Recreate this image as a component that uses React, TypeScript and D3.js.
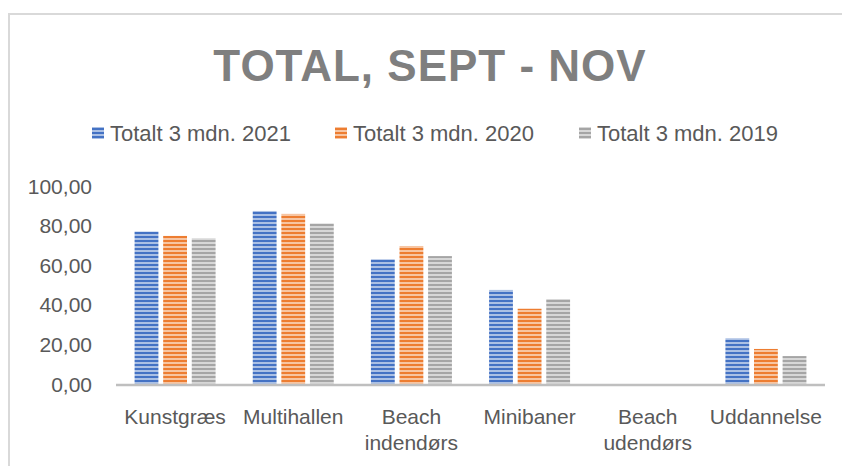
import React from "react";
import * as d3 from "d3";

const categories: string[][] = [
  ["Kunstgræs"],
  ["Multihallen"],
  ["Beach", "indendørs"],
  ["Minibaner"],
  ["Beach", "udendørs"],
  ["Uddannelse"],
];
const seriesNames = ["Totalt 3 mdn. 2021", "Totalt 3 mdn. 2020", "Totalt 3 mdn. 2019"];
const values2021 = [77.0, 87.4, 63.0, 47.5, 0, 23.1];
const values2020 = [74.8, 85.9, 69.7, 38.0, 0, 17.7];
const values2019 = [73.6, 81.1, 64.6, 42.9, 0, 14.1];
const yTicks = [0, 20, 40, 60, 80, 100];
const colors = ["#4472C4", "#ED7D31", "#A5A5A5"];

const W = 842;
const H = 466;
const FONT = "'Liberation Sans', Arial, sans-serif";

export default function App() {
  const series = [values2021, values2020, values2019];
  const catKeys = categories.map((c) => c.join(" "));
  const x = d3.scaleBand<string>().domain(catKeys).range([116, 825]).padding(0);
  const groupW = 81;
  const x1 = d3
    .scaleBand<number>()
    .domain([0, 1, 2])
    .range([0, groupW])
    .paddingInner(0.2 / 1.2)
    .paddingOuter(0);
  const y = d3.scaleLinear().domain([0, 100]).range([384, 186]);
  const fmt = (v: number) => d3.format(".2f")(v).replace(".", ",");
  const light = (c: string) => d3.interpolateRgb(c, "#ffffff")(0.55);

  const legendX = [92, 335, 579];

  return (
    <div style={{ position: "absolute", left: 0, top: 0 }}>
      <svg width={W} height={H} style={{ display: "block", background: "#fff" }}>
        <defs>
          {colors.map((c, i) => (
            <pattern
              key={i}
              id={`stripe${i}`}
              patternUnits="userSpaceOnUse"
              width={8}
              height={4}
              y={0}
            >
              <rect x={0} y={0} width={8} height={4} fill={light(c)} />
              <rect x={0} y={0} width={8} height={2} fill={c} />
            </pattern>
          ))}
        </defs>
        <rect x={9} y={14} width={W + 20} height={H + 20} fill="#fff" stroke="#d9d9d9" strokeWidth={2} />

        <text
          x={430}
          y={80.5}
          textAnchor="middle"
          fontFamily={FONT}
          fontWeight="bold"
          fontSize={44}
          letterSpacing={1}
          fill="#7f7f7f"
        >
          TOTAL, SEPT - NOV
        </text>

        {seriesNames.map((s, i) => (
          <g key={s}>
            <rect x={legendX[i]} y={127} width={12} height={12} fill={`url(#stripe${i})`} />
            <text x={legendX[i] + 18} y={141} fontFamily={FONT} fontSize={22} fill="#595959">
              {s}
            </text>
          </g>
        ))}

        {yTicks.map((t) => (
          <text
            key={t}
            x={92}
            y={y(t) + 7.5}
            textAnchor="end"
            fontFamily={FONT}
            fontSize={21}
            fill="#595959"
          >
            {fmt(t)}
          </text>
        ))}

        {catKeys.map((k, ci) => {
          const gx = (x(k) as number) + x.bandwidth() / 2 - groupW / 2;
          return (
            <g key={k}>
              {series.map((vals, si) =>
                vals[ci] > 0 ? (
                  <rect
                    key={si}
                    x={gx + (x1(si) as number)}
                    y={y(vals[ci])}
                    width={x1.bandwidth()}
                    height={y(0) - y(vals[ci])}
                    fill={`url(#stripe${si})`}
                  />
                ) : null
              )}
            </g>
          );
        })}

        <line x1={116} x2={825} y1={y(0) + 1} y2={y(0) + 1} stroke="#bfbfbf" strokeWidth={2.5} />

        {categories.map((lines, ci) => {
          const cx = (x(catKeys[ci]) as number) + x.bandwidth() / 2;
          return (
            <text key={ci} textAnchor="middle" fontFamily={FONT} fontSize={21} fill="#595959">
              {lines.map((ln, li) => (
                <tspan key={li} x={cx} y={423.5 + li * 26}>
                  {ln}
                </tspan>
              ))}
            </text>
          );
        })}
      </svg>
    </div>
  );
}
